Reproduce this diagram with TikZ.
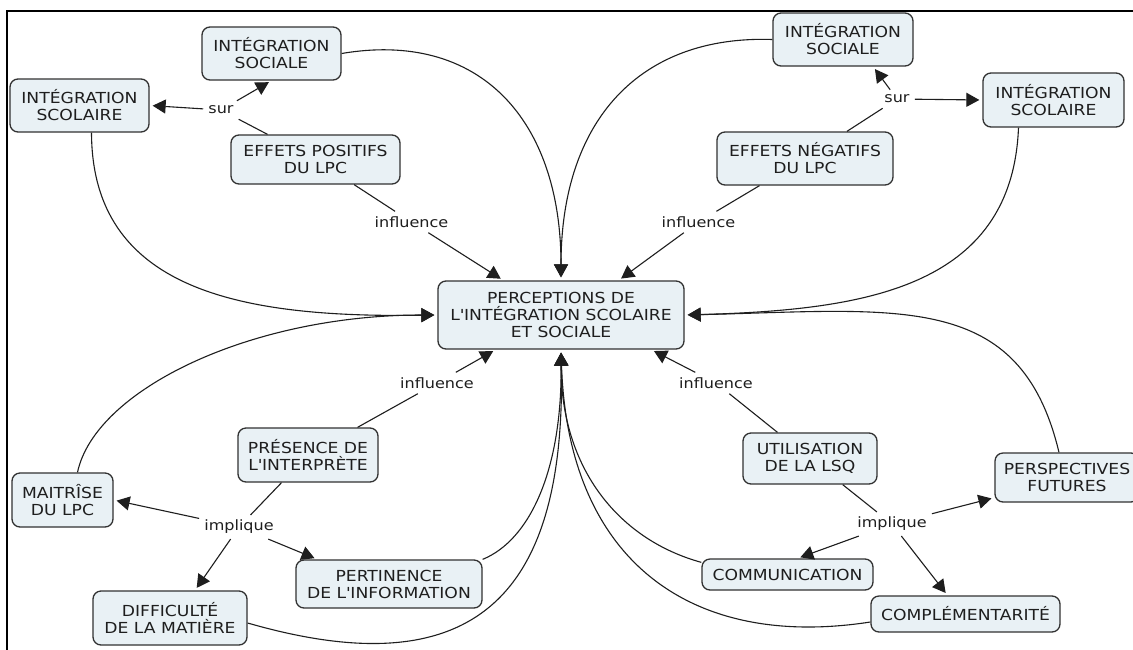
\documentclass[tikz,border=0pt]{standalone}
\usepackage{fontspec}
\setmainfont{DejaVu Sans}[FakeStretch=1.13]
\usetikzlibrary{arrows.meta,calc}
\definecolor{boxfill}{RGB}{233,241,245}
\definecolor{boxline}{RGB}{50,50,50}
\definecolor{ink}{RGB}{30,30,30}
\newcommand{\ap}{\textquotesingle}
\begin{document}
\begin{tikzpicture}[x=1pt,y=-1pt,
  concept/.style={draw=boxline, line width=1.3pt, fill=boxfill, rounded corners=8pt,
    align=center, font=\fontsize{15.2}{17}\selectfont, text=ink, inner sep=0pt},
  linkword/.style={font=\fontsize{14.2}{16}\selectfont, text=ink, inner sep=5pt},
  link/.style={draw=ink, line width=1.1pt},
  arrowlink/.style={link, -{Triangle[length=13pt,width=14pt]}, shorten >=3pt},
]
\useasboundingbox (0,0) rectangle (1133,649);
\fill[white] (0,0) rectangle (1133,649);
% frame
\draw[line width=2pt, black] (7,650) -- (7,11) -- (1134,11);

% concepts
\node[concept, minimum width=246pt, minimum height=68pt] (PC) at (561,315)
  {PERCEPTIONS DE\\L\ap INTÉGRATION SCOLAIRE\\ET SOCIALE};
\node[concept, minimum width=139pt, minimum height=53pt] (IS1) at (271.5,53.5) {INTÉGRATION\\SOCIALE};
\node[concept, minimum width=139pt, minimum height=53pt] (ISC1) at (79.5,105.5) {INTÉGRATION\\SCOLAIRE};
\node[concept, minimum width=169pt, minimum height=49pt] (EP) at (315.5,159.5) {EFFETS POSITIFS\\DU LPC};
\node[concept, minimum width=140pt, minimum height=53pt] (IS2) at (843,39.5) {INTÉGRATION\\SOCIALE};
\node[concept, minimum width=141pt, minimum height=54pt] (ISC2) at (1053.5,100) {INTÉGRATION\\SCOLAIRE};
\node[concept, minimum width=176pt, minimum height=53pt] (EN) at (805,158.5) {EFFETS NÉGATIFS\\DU LPC};
\node[concept, minimum width=140pt, minimum height=54pt] (PR) at (308,455) {PRÉSENCE DE\\L\ap INTERPRÈTE};
\node[concept, minimum width=101pt, minimum height=54pt] (MT) at (62.5,500) {MAITRÎSE\\DU LPC};
\node[concept, minimum width=186pt, minimum height=48pt] (PE) at (389,584) {PERTINENCE\\DE L\ap INFORMATION};
\node[concept, minimum width=154pt, minimum height=54pt] (DM) at (170,618) {DIFFICULTÉ\\DE LA MATIÈRE};
\node[concept, minimum width=134pt, minimum height=51pt] (UL) at (810,458.5) {UTILISATION\\DE LA LSQ};
\node[concept, minimum width=144pt, minimum height=49pt] (PF) at (1067,477.5) {PERSPECTIVES\\FUTURES};
\node[concept, minimum width=171pt, minimum height=31pt] (CO) at (787.5,574.5) {COMMUNICATION};
\node[concept, minimum width=189pt, minimum height=36pt] (CP) at (965.5,614) {COMPLÉMENTARITÉ};

% linking words
\node[linkword] (sur1) at (221,110) {sur};
\node[linkword] (sur2) at (897,99) {sur};
\node[linkword] (inf1) at (411.5,222) {influence};
\node[linkword] (inf2) at (698.5,222) {influence};
\node[linkword] (inf3) at (437,383) {influence};
\node[linkword] (inf4) at (716,383) {influence};
\node[linkword] (imp1) at (239,527) {implique};
\node[linkword] (imp2) at (892,524) {implique};

% upper left
\draw[link] (EP) -- (sur1);
\draw[arrowlink] (sur1) -- (ISC1.east);
\draw[arrowlink] (sur1) -- (IS1.south);
\draw[link] (EP) -- (inf1);
\draw[arrowlink] (inf1) -- (PC.149);

% upper right
\draw[link] (EN) -- (sur2);
\draw[arrowlink] (sur2) -- (IS2.-42);
\draw[arrowlink] (sur2) -- (ISC2.west);
\draw[link] (EN) -- (inf2);
\draw[arrowlink] (inf2) -- (PC.31);

% lower left
\draw[link] (PR) -- (inf3);
\draw[arrowlink] (inf3) -- (PC.-152);
\draw[link] (PR) -- (imp1);
\draw[arrowlink] (imp1) -- (MT.east);
\draw[arrowlink] (imp1) -- ($(PE.north west)+(22,0)$);
\draw[arrowlink] (imp1) -- ($(DM.north)+(25,0)$);

% lower right
\draw[link] (UL) -- (inf4);
\draw[arrowlink] (inf4) -- (PC.-21);
\draw[link] (UL) -- (imp2);
\draw[arrowlink] (imp2) -- ($(PF.south west)+(0,-5)$);
\draw[arrowlink] (imp2) -- ($(CO.north)+(10,0)$);
\draw[arrowlink] (imp2) -- ($(CP.north)+(-18,0)$);

% curved links into the central concept
\draw[arrowlink] (IS1.east) .. controls (480,30) and (561,120) .. (PC.north);
\draw[arrowlink] (IS2.west) .. controls (640,35) and (561,120) .. (PC.north);
\draw[arrowlink] ($(ISC1.south)+(12,0)$) .. controls (92,290) and (240,318) .. (PC.west);
\draw[arrowlink] ($(MT.north)+(15,0)$) .. controls (95,390) and (250,315) .. (PC.west);
\draw[arrowlink] ($(ISC2.south)+(-35,0)$) .. controls (1012,290) and (860,310) .. (PC.east);
\draw[arrowlink] ($(PF.north)+(-8,0)$) .. controls (1020,290) and (900,310) .. (PC.east);
\draw[arrowlink] (PE.north east) .. controls (530,540) and (562,470) .. (PC.south);
\draw[arrowlink] ($(DM.east)+(0,5)$) .. controls (480,690) and (566,590) .. (PC.south);
\draw[arrowlink] ($(CO.north west)+(0,4)$) .. controls (620,540) and (561,470) .. (PC.south);
\draw[arrowlink] ($(CP.west)+(0,8)$) .. controls (690,650) and (568,560) .. (PC.south);
\end{tikzpicture}
\end{document}
